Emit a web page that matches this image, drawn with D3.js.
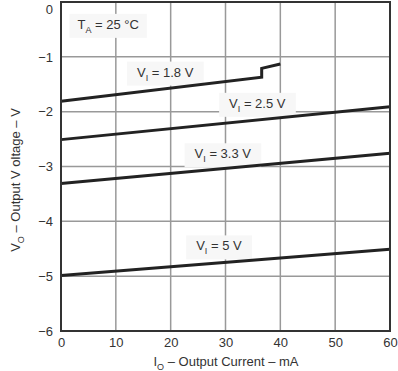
<!DOCTYPE html>
<html><head><meta charset="utf-8">
<script src="https://cdn.jsdelivr.net/npm/d3@7"></script>
<style>body{margin:0;background:#fff}svg{display:block}text{font-family:"Liberation Sans",Arial,sans-serif;fill:#333}</style>
</head><body><svg id="c" width="398" height="371"></svg>
<script>
const xTicks = [0,10,20,30,40,50,60];
const yTicks = [0,-1,-2,-3,-4,-5,-6];
const s18 = [[0,-1.81],[36.6,-1.37],[36.6,-1.21],[40,-1.13]];
const s25 = [[0,-2.51],[60,-1.91]];
const s33 = [[0,-3.31],[60,-2.76]];
const s50 = [[0,-4.99],[60,-4.51]];
const seriesList = [s18, s25, s33, s50];
const labels = [
  {v:"1.8", x:19, y:-1.36},
  {v:"2.5", x:35.8, y:-1.93},
  {v:"3.3", x:29.5, y:-2.85},
  {v:"5", x:28.8, y:-4.53}
];
const svg = d3.select("#c");
const x = d3.scaleLinear().domain([0,60]).range([61,390]);
const y = d3.scaleLinear().domain([-6,0]).range([331,2]);
// grid
svg.append("g").selectAll("line").data(xTicks.slice(1,-1)).join("line")
  .attr("x1",d=>x(d)).attr("x2",d=>x(d)).attr("y1",y(0)).attr("y2",y(-6))
  .attr("stroke","#999").attr("stroke-width",1.5);
svg.append("g").selectAll("line").data(yTicks.slice(1,-1)).join("line")
  .attr("y1",d=>y(d)).attr("y2",d=>y(d)).attr("x1",x(0)).attr("x2",x(60))
  .attr("stroke","#999").attr("stroke-width",1.5);
// labels boxes
const lg = svg.append("g");
labels.forEach(l=>{
  const g = lg.append("g");
  const t = g.append("text").attr("x",x(l.x)).attr("y",y(l.y)).attr("text-anchor","middle").attr("font-size",13);
  t.append("tspan").text("V");
  t.append("tspan").attr("font-size",9).attr("dy",4).text("I");
  t.append("tspan").attr("dy",-4).text(" = "+l.v+" V");
  const b = t.node().getBBox();
  g.insert("rect","text").attr("x",b.x-10).attr("y",b.y-3).attr("width",b.width+20).attr("height",b.height+6).attr("fill","#f7f7f7");
});
{
  const g = lg.append("g");
  const t = g.append("text").attr("x",x(8.6)).attr("y",y(-0.49)).attr("text-anchor","middle").attr("font-size",13);
  t.append("tspan").text("T");
  t.append("tspan").attr("font-size",9).attr("dy",4).text("A");
  t.append("tspan").attr("dy",-4).text(" = 25 \u00b0C");
  const b = t.node().getBBox();
  g.insert("rect","text").attr("x",b.x-8).attr("y",b.y-3).attr("width",b.width+16).attr("height",b.height+6).attr("fill","#f7f7f7");
}
// curves
const line = d3.line().x(d=>x(d[0])).y(d=>y(d[1]));
svg.append("g").selectAll("path").data(seriesList).join("path")
  .attr("d",line).attr("fill","none").attr("stroke","#222").attr("stroke-width",3);
// frame
svg.append("rect").attr("x",x(0)).attr("y",y(0)).attr("width",x(60)-x(0)).attr("height",y(-6)-y(0))
  .attr("fill","none").attr("stroke","#333").attr("stroke-width",2);
// axes
const xa = svg.append("g").attr("transform",`translate(0,${y(-6)})`).call(d3.axisBottom(x).tickValues(xTicks).tickSize(0).tickPadding(7));
const ya = svg.append("g").attr("transform",`translate(${x(0)},0)`).call(d3.axisLeft(y).tickValues(yTicks).tickSize(0).tickPadding(8).tickFormat(d=>d===0?"0":"\u2212"+Math.abs(d)));
[xa,ya].forEach(a=>{a.select(".domain").remove();a.selectAll("text").attr("font-size",13).attr("fill","#333").style("font-family","Liberation Sans, Arial, sans-serif");});
ya.selectAll(".tick").filter(d=>d===0).select("text").attr("dy","0.85em");
// titles
const xt = svg.append("text").attr("x",226).attr("y",366).attr("text-anchor","middle").attr("font-size",13);
xt.append("tspan").text("I");
xt.append("tspan").attr("font-size",9).attr("dy",4).text("O");
xt.append("tspan").attr("dy",-4).text(" \u2013 Output Current \u2013 mA");
const yt = svg.append("text").attr("transform","translate(20,180) rotate(-90)").attr("text-anchor","middle").attr("font-size",13);
yt.append("tspan").text("V");
yt.append("tspan").attr("font-size",9).attr("dy",4).text("O");
yt.append("tspan").attr("dy",-4).text(" \u2013 Output V  oltage \u2013 V");
</script></body></html>
